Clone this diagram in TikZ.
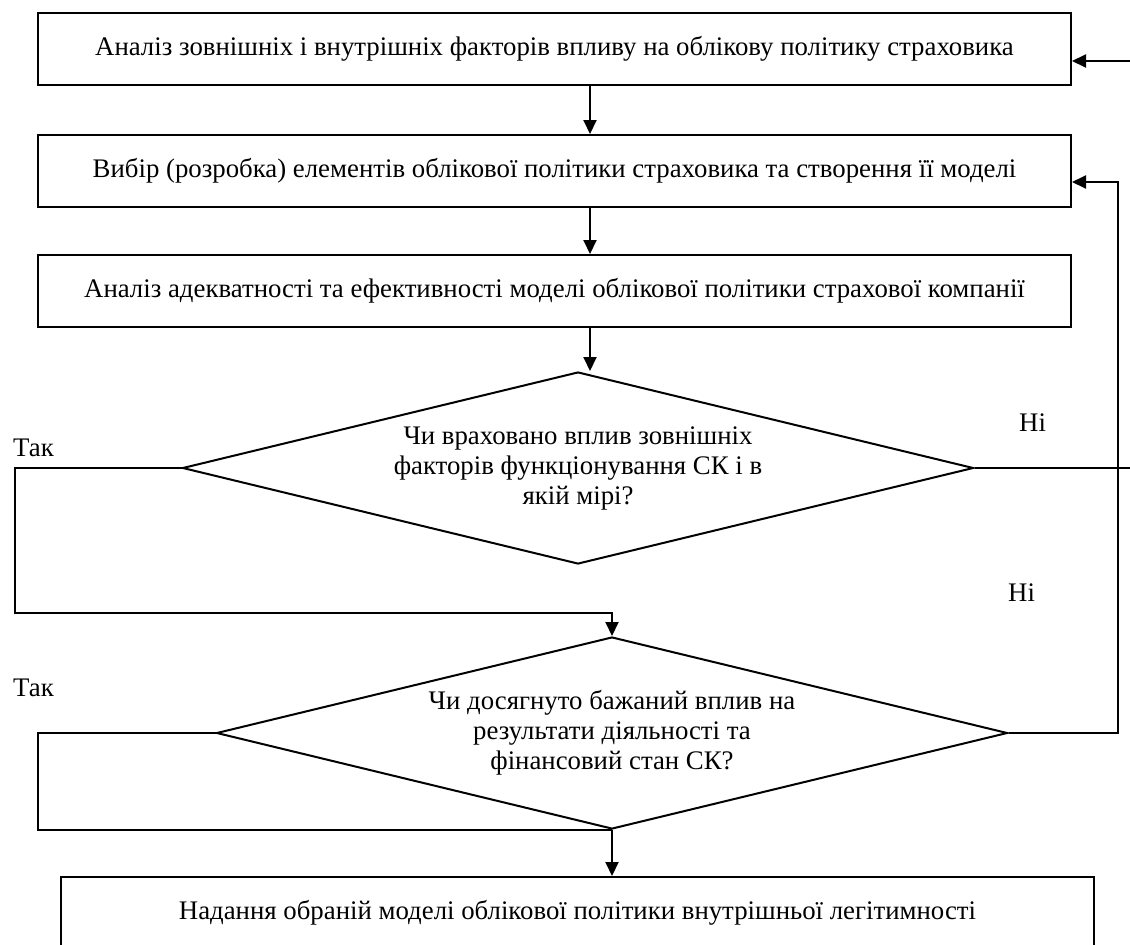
\documentclass[tikz,border=0pt]{standalone}
\usepackage{fontspec}
\setmainfont{Liberation Serif}
\usetikzlibrary{arrows.meta,positioning,shapes.geometric}

\begin{document}
\begin{tikzpicture}[
  x=1pt, y=-1pt,
  node distance=48pt,
  font=\fontsize{26.8}{30}\selectfont,
  box/.style={rectangle, draw, line width=2pt, minimum width=1033pt, minimum height=72pt, inner sep=0pt, align=center},
  decision/.style={diamond, draw, line width=2pt, minimum width=791pt, minimum height=192pt, aspect=4.12, inner sep=0pt, align=center},
  line/.style={line width=2pt},
  arrow/.style={line, -{Triangle[length=14pt, width=13pt]}},
  answer/.style={inner sep=0pt, anchor=west}
]
  \useasboundingbox (0,0) rectangle (1130,945);
  \clip (0,0) rectangle (1130,945);

  \node[box] (analysis) at (554.5,49) {Аналіз зовнішніх і внутрішніх факторів впливу на облікову політику страховика};
  \node[box, below=48pt of analysis] (choice) {Вибір (розробка) елементів облікової політики страховика та створення її моделі};
  \node[box, below=46pt of choice] (adequacy) {Аналіз адекватності та ефективності моделі облікової політики страхової компанії};
  \node[decision, below=43pt of adequacy, xshift=23.5pt] (factors) {Чи враховано вплив зовнішніх\\факторів функціонування СК і в\\якій мірі?};
  \node[decision, below=71pt of factors, xshift=34pt] (result) {Чи досягнуто бажаний вплив на\\результати діяльності та\\фінансовий стан СК?};
  \node[box, below=46pt of result, xshift=-34.5pt] (legit) {Надання обраній моделі облікової політики внутрішньої легітимності};

  \coordinate (axis) at (590,0);
  \coordinate (feedtop) at (1130,61);
  \coordinate (feedside) at (1118,182);
  \coordinate (yesone) at (15,613);
  \coordinate (yestwo) at (38,829);

  \draw[arrow] (analysis.south -| axis) -- (choice.north -| axis);
  \draw[arrow] (choice.south -| axis) -- (adequacy.north -| axis);
  \draw[arrow] (adequacy.south -| axis) -- (factors.north -| axis);
  \draw[arrow] (feedtop) -- (feedtop -| analysis.east);
  \draw[line] (factors.east) -- (factors.east -| feedtop);
  \draw[arrow] (result.east) -| (feedside) -- (feedside -| choice.east);
  \draw[arrow] (factors.west) -| (yesone) -- (yesone -| result.north) -- (result.north);
  \draw[line] (result.west) -- (result.west -| yestwo) |- (result.south);
  \draw[arrow] (result.south) -- (result.south |- legit.north);

  \node[answer] (yes1) at (13,448) {Так};
  \node[answer] (no1) at (1019,423) {Ні};
  \node[answer] (yes2) at (13,688) {Так};
  \node[answer] (no2) at (1008,593) {Ні};
\end{tikzpicture}
\end{document}
